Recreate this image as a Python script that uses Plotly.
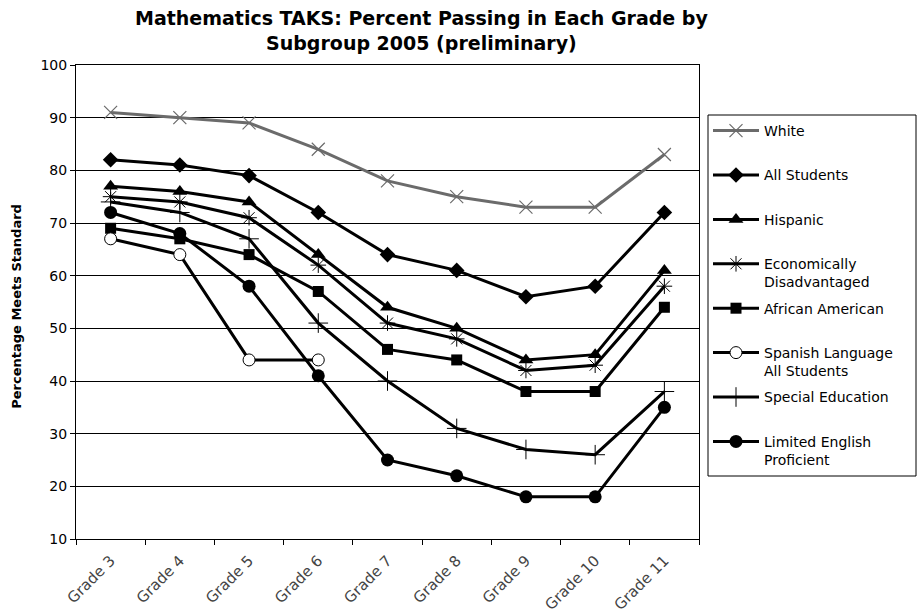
import plotly.graph_objects as go

grades = ["Grade 3", "Grade 4", "Grade 5", "Grade 6", "Grade 7", "Grade 8", "Grade 9", "Grade 10", "Grade 11"]

white = [91, 90, 89, 84, 78, 75, 73, 73, 83]
all_students = [82, 81, 79, 72, 64, 61, 56, 58, 72]
hispanic = [77, 76, 74, 64, 54, 50, 44, 45, 61]
econ_dis = [75, 74, 71, 62, 51, 48, 42, 43, 58]
african_american = [69, 67, 64, 57, 46, 44, 38, 38, 54]
spanish_lang = [67, 64, 44, 44, None, None, None, None, None]
special_ed = [74, 72, 67, 51, 40, 31, 27, 26, 38]
lep = [72, 68, 58, 41, 25, 22, 18, 18, 35]

series = [
    ("White<br>&nbsp;", white, "#6b6b6b", dict(symbol="x-thin", size=13, line=dict(width=1.2, color="#6b6b6b"))),
    ("All Students<br>&nbsp;", all_students, "black", dict(symbol="diamond", size=12, color="black")),
    ("Hispanic<br>&nbsp;", hispanic, "black", dict(symbol="triangle-up", size=13, color="black")),
    ("Economically<br>Disadvantaged", econ_dis, "black", dict(symbol="asterisk", size=13, line=dict(width=1, color="black"))),
    ("African American<br>&nbsp;", african_american, "black", dict(symbol="square", size=11, color="black")),
    ("Spanish Language<br>All Students", spanish_lang, "black", dict(symbol="circle", size=12, color="white", line=dict(width=1, color="black"))),
    ("Special Education<br>&nbsp;", special_ed, "black", dict(symbol="cross-thin", size=14, line=dict(width=1, color="black"))),
    ("Limited English<br>Proficient", lep, "black", dict(symbol="circle", size=13, color="black")),
]

fig = go.Figure()
for name, vals, col, mk in series:
    fig.add_trace(go.Scatter(
        x=grades, y=vals, name=name, mode="lines+markers",
        line=dict(color=col, width=3), marker=mk,
        legendgroup=name, connectgaps=False,
    ))

PW, PH, PL, PB = 623, 474, 76, 539

fig.update_layout(
    width=917, height=616,
    margin=dict(l=76, r=218, t=65, b=77),
    paper_bgcolor="white", plot_bgcolor="white",
    font=dict(family="DejaVu Sans", size=14, color="black"),
    xaxis=dict(
        type="category", range=[-0.5, 8.5], tickson="boundaries",
        ticks="outside", ticklen=5, tickcolor="black",
        showline=True, linecolor="black", linewidth=1, mirror=True,
        showgrid=False, tickangle=-45, ticklabelstandoff=6, automargin=False,
        tickfont=dict(size=15, color="#444444"),
    ),
    yaxis=dict(
        range=[10, 100], dtick=10, ticks="outside", ticklen=5, tickcolor="black",
        showline=True, linecolor="black", linewidth=1, mirror=True,
        showgrid=True, gridcolor="black", gridwidth=1, automargin=False,
        tickfont=dict(size=14, color="black"),
        zeroline=False,
    ),
    legend=dict(
        x=(708-PL)/PW, xanchor="left", y=(PB-115)/PH, yanchor="top",
        borderwidth=0, bgcolor="rgba(0,0,0,0)",
        font=dict(size=14, color="black"), tracegroupgap=5, valign="top",
        itemwidth=46,
    ),
    shapes=[dict(
        type="rect", xref="paper", yref="paper",
        x0=(708-PL)/PW, x1=(916-PL)/PW, y0=(PB-476)/PH, y1=(PB-115)/PH,
        line=dict(color="black", width=1), fillcolor="rgba(0,0,0,0)", layer="below",
    )],
    annotations=[
        dict(
            text="<b>Mathematics TAKS: Percent Passing in Each Grade by<br>Subgroup 2005 (preliminary)</b>",
            xref="paper", yref="paper", x=(421-PL)/PW, y=(PB-5)/PH,
            xanchor="center", yanchor="top", showarrow=False,
            font=dict(family="DejaVu Sans", size=19, color="black"),
        ),
        dict(
            text="<b>Percentage Meets Standard</b>", textangle=-90,
            xref="paper", yref="paper", x=(17-PL)/PW, y=0.49,
            xanchor="center", yanchor="middle", showarrow=False,
            font=dict(size=13, color="black"),
        ),
    ],
)

fig.write_html("out.html", config={"displayModeBar": False},
               post_script="document.body.style.margin='0';")
